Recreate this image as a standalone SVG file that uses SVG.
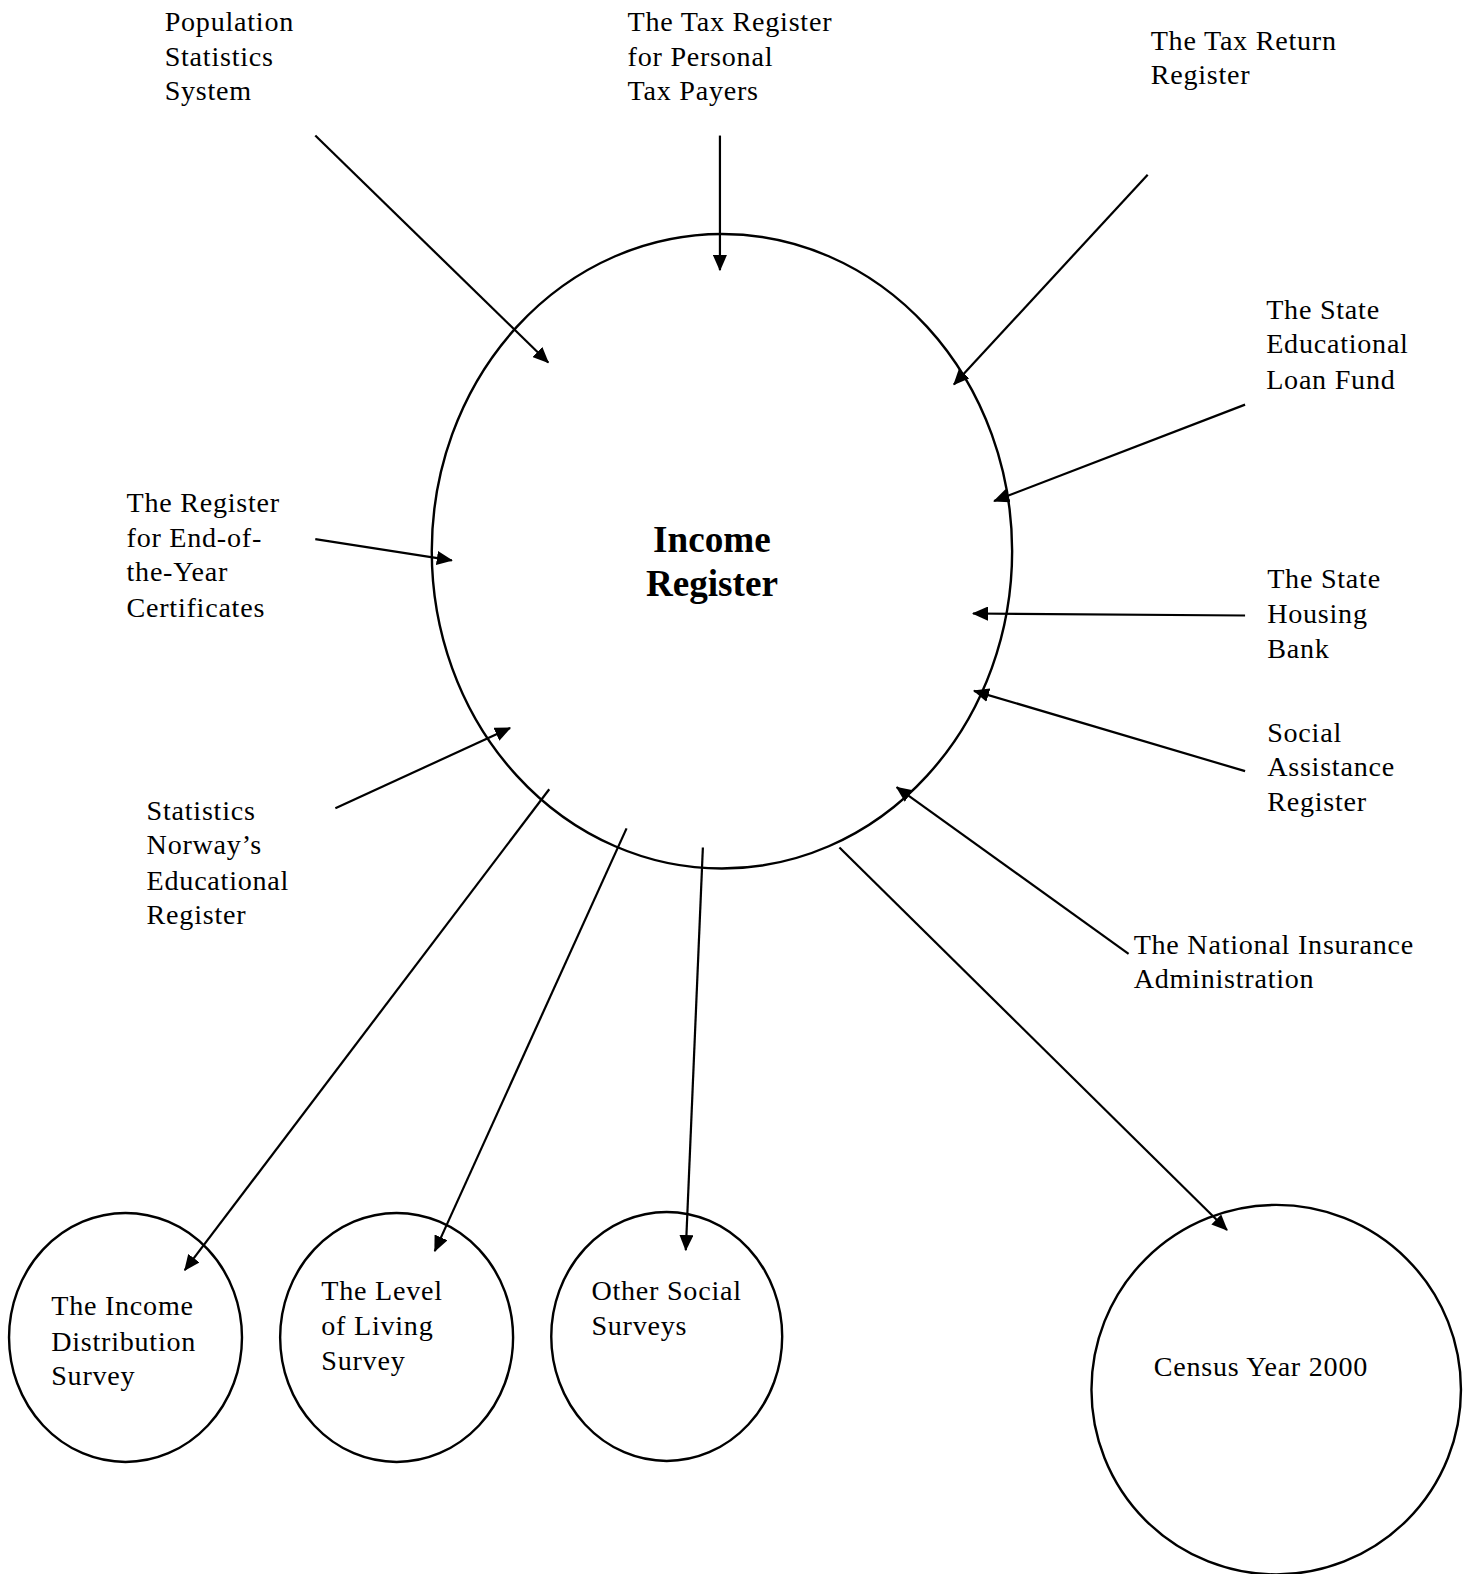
<svg xmlns="http://www.w3.org/2000/svg" width="1468" height="1574" viewBox="0 0 1468 1574">
<style>
text{font-family:"Liberation Serif","Times New Roman",serif;font-size:28px;letter-spacing:0.75px;fill:#000}
.b{font-weight:bold;font-size:37px;letter-spacing:0}
.c{fill:none;stroke:#000;stroke-width:2.4}
.a{fill:none;stroke:#000;stroke-width:2.2;marker-end:url(#ah)}
</style>
<defs>
<marker id="ah" markerUnits="userSpaceOnUse" markerWidth="16" markerHeight="14" viewBox="0 0 16 14" refX="15" refY="7" orient="auto">
<path d="M0,0 L16,7 L0,14 Z" fill="#000"/>
</marker>
</defs>
<rect width="1468" height="1574" fill="#fff"/>
<g transform="scale(1.0041)">
<g id="income-register">
<ellipse class="c" cx="719" cy="549" rx="289" ry="316"/>
<text class="b" x="709" y="550" text-anchor="middle">Income</text>
<text class="b" x="709" y="594" text-anchor="middle">Register</text>
</g>
<g id="population"><text x="164" y="31">Population</text><text x="164" y="66">Statistics</text><text x="164" y="100">System</text></g>
<g id="tax-register"><text x="625" y="31">The Tax Register</text><text x="625" y="66">for Personal</text><text x="625" y="100">Tax Payers</text></g>
<g id="tax-return"><text x="1146" y="50">The Tax Return</text><text x="1146" y="84">Register</text></g>
<g id="loan-fund"><text x="1261" y="318">The State</text><text x="1261" y="352">Educational</text><text x="1261" y="387">Loan Fund</text></g>
<g id="end-of-year"><text x="126" y="510">The Register</text><text x="126" y="545">for End-of-</text><text x="126" y="579">the-Year</text><text x="126" y="614">Certificates</text></g>
<g id="housing-bank"><text x="1262" y="586">The State</text><text x="1262" y="620">Housing</text><text x="1262" y="655">Bank</text></g>
<g id="social-assistance"><text x="1262" y="739">Social</text><text x="1262" y="773">Assistance</text><text x="1262" y="808">Register</text></g>
<g id="ssb-education"><text x="146" y="817">Statistics</text><text x="146" y="851">Norway’s</text><text x="146" y="886">Educational</text><text x="146" y="920">Register</text></g>
<g id="national-insurance"><text x="1129" y="950">The National Insurance</text><text x="1129" y="984">Administration</text></g>
<g id="income-distribution"><ellipse class="c" cx="125" cy="1332" rx="116" ry="124"/><text x="51" y="1310">The Income</text><text x="51" y="1345">Distribution</text><text x="51" y="1379">Survey</text></g>
<g id="level-of-living"><ellipse class="c" cx="395" cy="1332" rx="116" ry="124"/><text x="320" y="1295">The Level</text><text x="320" y="1330">of Living</text><text x="320" y="1364">Survey</text></g>
<g id="other-surveys"><ellipse class="c" cx="664" cy="1331" rx="115" ry="124"/><text x="589" y="1295">Other Social</text><text x="589" y="1330">Surveys</text></g>
<g id="census"><ellipse class="c" cx="1271" cy="1384" rx="184" ry="184"/><text x="1149" y="1370">Census Year 2000</text></g>
<g id="connectors">
<line class="a" x1="314" y1="135" x2="546" y2="361"/>
<line class="a" x1="717" y1="135" x2="717" y2="269"/>
<line class="a" x1="1143" y1="174" x2="950" y2="383"/>
<line class="a" x1="1240" y1="403" x2="990" y2="499"/>
<line class="a" x1="1240" y1="613" x2="969" y2="611"/>
<line class="a" x1="1240" y1="768" x2="970" y2="688"/>
<line class="a" x1="1124" y1="950" x2="893" y2="784"/>
<line class="a" x1="314" y1="537" x2="450" y2="558"/>
<line class="a" x1="334" y1="805" x2="508" y2="725"/>
<line class="a" x1="547" y1="786" x2="184" y2="1265"/>
<line class="a" x1="624" y1="825" x2="433" y2="1246"/>
<line class="a" x1="700" y1="844" x2="683" y2="1245"/>
<line class="a" x1="836" y1="844" x2="1222" y2="1225"/>
</g>
</g>
</svg>
